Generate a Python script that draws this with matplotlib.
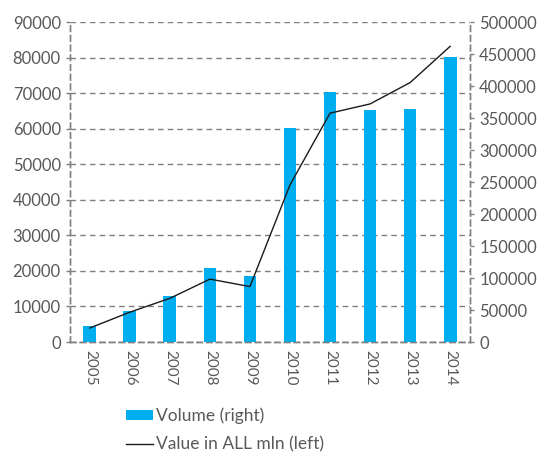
import matplotlib.pyplot as plt
from matplotlib.patches import Patch
from matplotlib.lines import Line2D

years = ['2005', '2006', '2007', '2008', '2009', '2010', '2011', '2012', '2013', '2014']
volume_right = [25000, 49000, 72000, 115000, 103500, 334000, 391000, 362000, 364000, 445000]
value_left = [3950, 8400, 12300, 17700, 15600, 44200, 64400, 67000, 73000, 83200]

bar_color = '#00AEEF'
grey = '#7f7f7f'
text_color = '#595959'

plt.rcParams['font.family'] = ['Lato', 'DejaVu Sans']

fig = plt.figure(figsize=(5.41, 4.53), dpi=100)
ax = fig.add_axes([0.129, 0.245, 0.740, 0.706])
ax2 = ax.twinx()   # bars, right scale
ax3 = ax.twinx()   # line, left scale (drawn on top of bars)

x = list(range(len(years)))
ax2.bar(x, volume_right, width=0.32, color=bar_color)
ax3.plot(x, value_left, color='#1a1a1a', linewidth=1.0)

ax.set_xlim(-0.5, 9.5)
ax.set_ylim(0, 90000)
ax.set_yticks(range(0, 90001, 10000))
ax3.set_ylim(0, 90000)
ax3.set_yticks([])
ax2.set_ylim(0, 500000)
ax2.set_yticks(range(0, 500001, 50000))
ax.set_xticks(x)
ax.set_xticklabels(years, rotation=270)

# grid follows the left scale, behind the bars
ax.grid(axis='y', linestyle=(0, (4, 3)), color=grey, linewidth=1.0)

for a in (ax, ax2, ax3):
    a.spines['top'].set_visible(False)
    for s in ('left', 'right', 'bottom'):
        a.spines[s].set_linestyle((0, (4, 3)))
        a.spines[s].set_color(grey)
        a.spines[s].set_linewidth(1.0)
    a.tick_params(axis='y', colors=grey, labelcolor=text_color, labelsize=12, length=3, width=1)
    a.tick_params(axis='x', colors=grey, labelcolor=text_color, labelsize=11, length=0, pad=6)
for s in ax3.spines.values():
    s.set_visible(False)

handles = [Patch(facecolor=bar_color, edgecolor='none'),
           Line2D([0], [0], color='#1a1a1a', linewidth=1.0)]
labels = ['Volume (right)', 'Value in ALL mln (left)']
leg = fig.legend(handles, labels, loc='upper left', bbox_to_anchor=(0.232, 0.100),
                 frameon=False, fontsize=12.5, handlelength=1.6, handleheight=0.55,
                 handletextpad=0.15, labelspacing=0.7, borderaxespad=0, borderpad=0)
for t in leg.get_texts():
    t.set_color(text_color)

fig.savefig('out.png', dpi=100)
